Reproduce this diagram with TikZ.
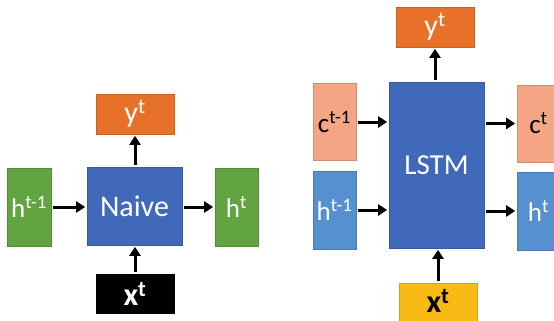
\documentclass[tikz,border=0pt]{standalone}
\usepackage{fontspec}
\setmainfont{Carlito}
\usetikzlibrary{arrows.meta}
\definecolor{cgreen}{HTML}{62A43F}
\definecolor{cblue}{HTML}{4169B9}
\definecolor{corange}{HTML}{E8712A}
\definecolor{csalmon}{HTML}{F3A584}
\definecolor{clblue}{HTML}{5690CF}
\definecolor{cyellow}{HTML}{F8BA14}
\newcommand{\sps}[1]{\textsuperscript{#1}}
\tikzset{
  box/.style={rectangle, inner sep=0pt, draw=#1!85!black, fill=#1, line width=0.6pt},
  lbl/.style={inner sep=0pt, font=\fontsize{27}{29}\selectfont},
  big/.style={font=\fontsize{30}{32}\selectfont},
  bigx/.style={font=\fontsize{32}{34}\selectfont\bfseries},
  arr/.style={line width=3pt, -{Triangle[length=9pt,width=11pt]}, shorten >=1.5pt, shorten <=1.5pt},
}
\begin{document}
\begin{tikzpicture}[x=1pt,y=-1pt]
\useasboundingbox (0,0) rectangle (554,321);
\clip (0,0) rectangle (554,321);
% left: naive
\node[box=corange, minimum width=78pt, minimum height=40pt] (y1) at (135,114) {};
\node[box=cblue, minimum width=95pt, minimum height=78pt] (naive) at (134.5,206) {};
\node[box=cgreen, minimum width=44pt, minimum height=78pt] (hp) at (29,207) {};
\node[box=cgreen, minimum width=43pt, minimum height=78pt] (hn) at (236.5,207) {};
\node[box=black, minimum width=78pt, minimum height=39pt] (x1) at (135,293.5) {};
\node[lbl, big, text=white] (ty1) at (y1) {y\sps{t}};
\node[lbl, big, text=white] (tnaive) at (naive) {Naive};
\node[lbl, text=white] (thp) at (hp) {h\sps{t-1}};
\node[lbl, text=white] (thn) at (hn) {h\sps{t}};
\node[lbl, bigx, text=white] (tx1) at (x1) {x\sps{t}};
\draw[arr] (hp.east) -- (hp.east -| naive.west);
\draw[arr] (hn.west -| naive.east) -- (hn.west);
\draw[arr] (naive.north -| y1.south) -- (y1.south);
\draw[arr] (x1.north) -- (x1.north |- naive.south);
% right: LSTM
\node[box=corange, minimum width=78pt, minimum height=40pt] (y2) at (435,27) {};
\node[box=cblue, minimum width=95pt, minimum height=166pt] (lstm) at (436.5,165) {};
\node[box=csalmon, minimum width=43pt, minimum height=77pt] (cp) at (334.5,122) {};
\node[box=clblue, minimum width=43pt, minimum height=78pt] (hp2) at (334.5,210) {};
\node[box=csalmon, minimum width=43pt, minimum height=77pt] (cn) at (538.5,123.5) {};
\node[box=clblue, minimum width=43pt, minimum height=78pt] (hn2) at (538.5,211) {};
\node[box=cyellow, minimum width=78pt, minimum height=40pt] (x2) at (438,303) {};
\node[lbl, big, text=white] (ty2) at (y2) {y\sps{t}};
\node[lbl, text=white, font=\fontsize{29}{31}\selectfont] (tlstm) at (lstm) {LSTM};
\node[lbl, text=black] (tcp) at (cp) {c\sps{t-1}};
\node[lbl, text=white] (thp2) at (hp2) {h\sps{t-1}};
\node[lbl, text=black] (tcn) at (cn) {c\sps{t}};
\node[lbl, text=white] (thn2) at (hn2) {h\sps{t}};
\node[lbl, bigx, text=black] (tx2) at (438,301) {x\sps{t}};
\draw[arr] (cp.east) -- (cp.east -| lstm.west);
\draw[arr] (hp2.east) -- (hp2.east -| lstm.west);
\draw[arr] (cn.west -| lstm.east) -- (cn.west);
\draw[arr] (hn2.west -| lstm.east) -- (hn2.west);
\draw[arr] (lstm.north -| y2.south) -- (y2.south);
\draw[arr] (x2.north) -- (x2.north |- lstm.south);
\end{tikzpicture}
\end{document}
